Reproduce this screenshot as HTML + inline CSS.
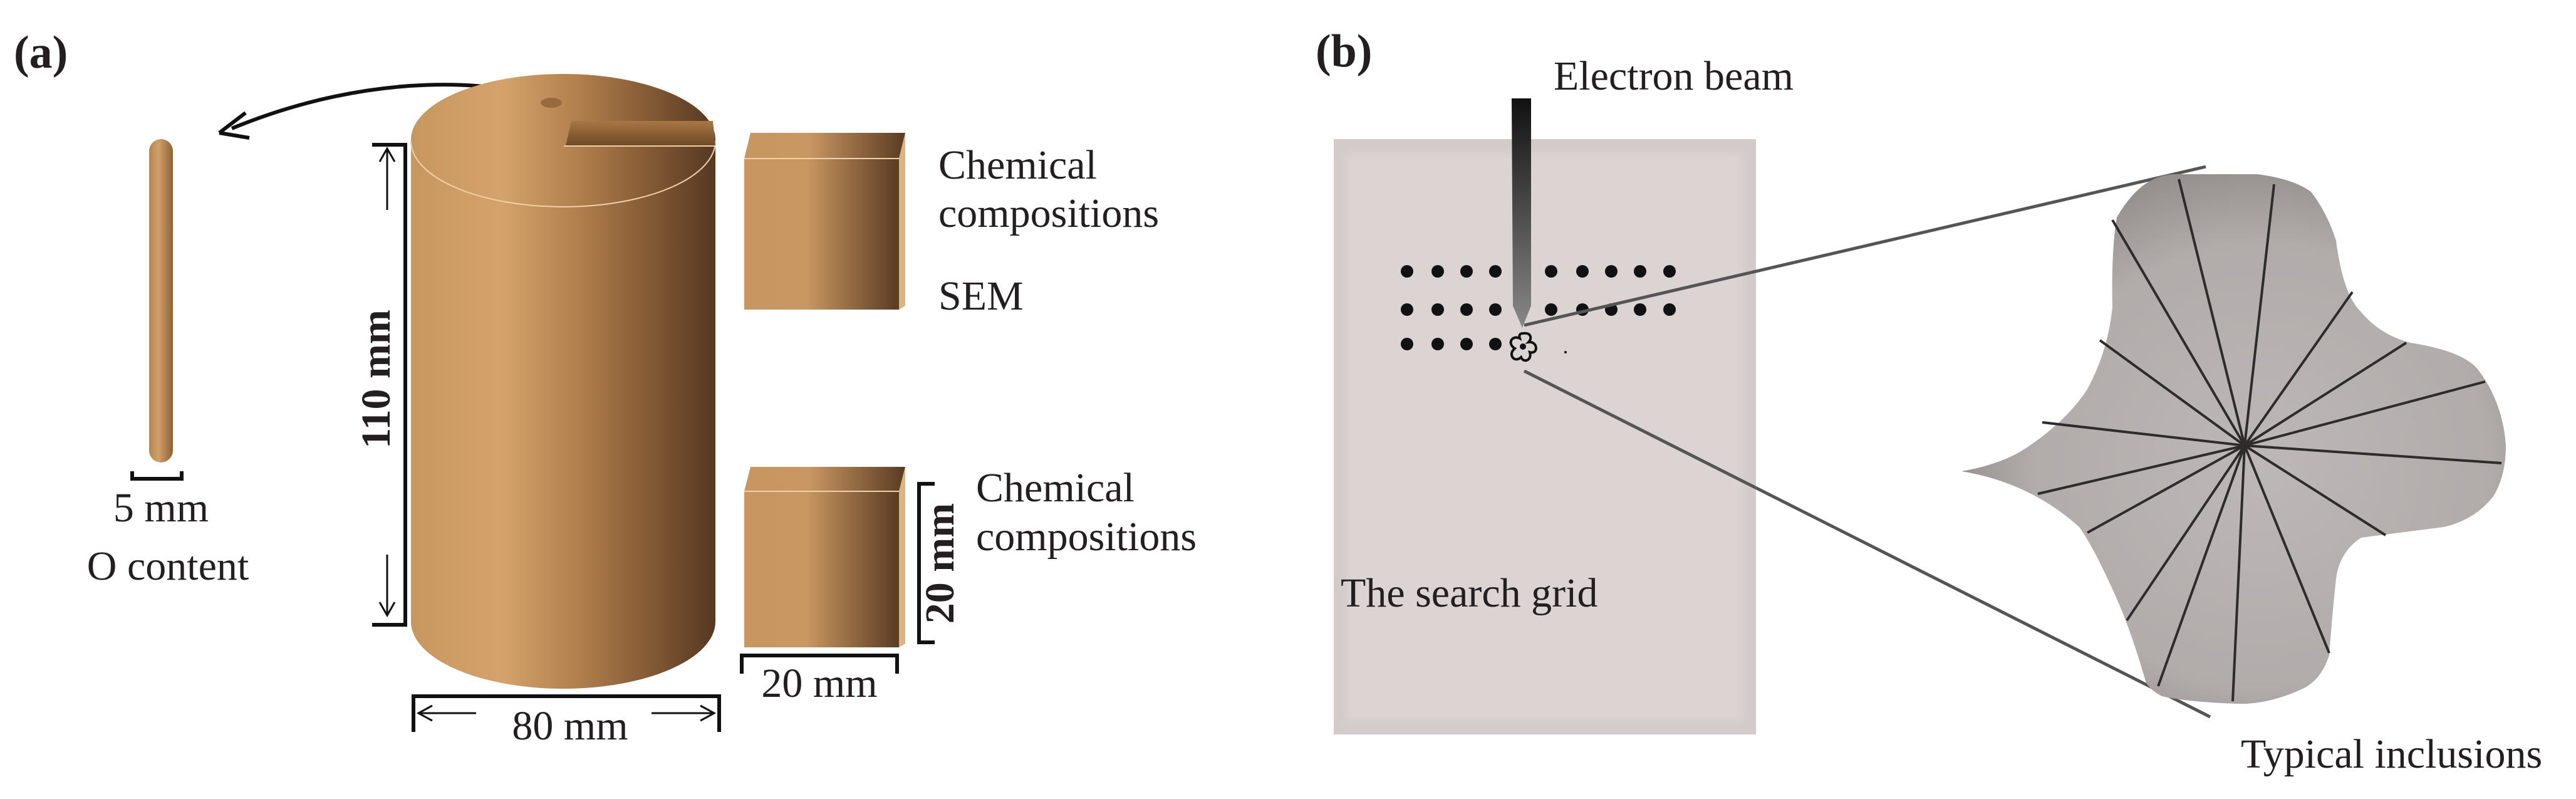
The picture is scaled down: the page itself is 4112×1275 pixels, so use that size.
<!DOCTYPE html>
<html><head><meta charset="utf-8"><style>
html,body{margin:0;padding:0;background:#fff;}
svg{display:block;}
text{font-family:"Liberation Serif",serif;fill:#231f20;}
</style></head><body>
<svg width="4112" height="1275" viewBox="0 0 4112 1275" xmlns="http://www.w3.org/2000/svg">
<defs>
<linearGradient id="cyl" x1="0" x2="1" y1="0" y2="0">
<stop offset="0" stop-color="#c8965f"/><stop offset="0.3" stop-color="#d4a26a"/>
<stop offset="0.55" stop-color="#b07f4d"/><stop offset="0.75" stop-color="#8a5f38"/>
<stop offset="1" stop-color="#553822"/></linearGradient>
<linearGradient id="blk" x1="0" x2="1" y1="0" y2="0">
<stop offset="0" stop-color="#c8965f"/><stop offset="0.4" stop-color="#c99762"/>
<stop offset="1" stop-color="#5a3b22"/></linearGradient>
<linearGradient id="rod" x1="0" x2="1"><stop offset="0" stop-color="#b7844f"/><stop offset="0.4" stop-color="#d0a06a"/><stop offset="1" stop-color="#8e6136"/></linearGradient>
<linearGradient id="slot" x1="0" x2="0" y1="0" y2="1"><stop offset="0" stop-color="#a87744"/><stop offset="1" stop-color="#6e4826"/></linearGradient>
<linearGradient id="beam" x1="0" x2="0" y1="0" y2="1"><stop offset="0" stop-color="#111"/><stop offset="1" stop-color="#888"/></linearGradient>
<radialGradient id="inc" cx="0.55" cy="0.55" r="0.6"><stop offset="0" stop-color="#bdb8b7"/><stop offset="0.7" stop-color="#b1abaa"/><stop offset="1" stop-color="#8f8988"/></radialGradient>
<filter id="soft"><feGaussianBlur stdDeviation="6"/></filter>
</defs>

<!-- (a) -->
<text x="22" y="108" font-size="74" font-weight="bold">(a)</text>

<!-- arrow curve -->
<path d="M880 160 C 800 130, 600 110, 370 205" fill="none" stroke="#111" stroke-width="6"/>
<path d="M350 212 L392 180 M350 212 L398 220" stroke="#111" stroke-width="6" fill="none"/>

<!-- rod -->
<rect x="238" y="222" width="38" height="516" rx="19" fill="url(#rod)"/>
<path d="M211 752 L211 764 L290 764 L290 752" fill="none" stroke="#111" stroke-width="6"/>
<text x="257" y="832" font-size="66" text-anchor="middle">5 mm</text>
<text x="268" y="925" font-size="66" text-anchor="middle">O content</text>

<!-- cylinder -->
<path d="M656 225 L656 992 A243 107 0 0 0 1142 992 L1142 225 Z" fill="url(#cyl)"/>
<ellipse cx="899" cy="223" rx="243" ry="105" fill="url(#cyl)"/>
<path d="M656 225 A243 105 0 0 0 1142 225" fill="none" stroke="#f0d2a8" stroke-width="2"/>
<path d="M903 233 L912 193 L1138 193 L1142 233 Z" fill="url(#slot)"/>
<line x1="900" y1="233" x2="1142" y2="233" stroke="#f0d2a8" stroke-width="2"/>
<ellipse cx="880" cy="164" rx="17" ry="8" fill="#9a6a3e"/>

<!-- 110 mm -->
<path d="M594 231 L647 231 L647 997 L594 997" fill="none" stroke="#111" stroke-width="6"/>
<path d="M618 335 L618 237 M606 258 L618 237 L630 258" fill="none" stroke="#111" stroke-width="3"/>
<path d="M618 885 L618 982 M606 961 L618 982 L630 961" fill="none" stroke="#111" stroke-width="3"/>
<text transform="translate(622 605) rotate(-90)" font-size="66" font-weight="bold" text-anchor="middle">110 mm</text>

<!-- 80 mm -->
<path d="M660 1168 L660 1111 L1148 1111 L1148 1168" fill="none" stroke="#111" stroke-width="6"/>
<path d="M760 1138 L668 1138 M690 1126 L668 1138 L690 1150" fill="none" stroke="#111" stroke-width="3"/>
<path d="M1040 1138 L1140 1138 M1118 1126 L1140 1138 L1118 1150" fill="none" stroke="#111" stroke-width="3"/>
<text x="910" y="1180" font-size="66" text-anchor="middle">80 mm</text>

<!-- block 1 -->
<path d="M1188 253 L1198 212 L1445 212 L1435 253 Z" fill="url(#blk)"/>
<rect x="1188" y="253" width="247" height="241" fill="url(#blk)"/>
<path d="M1435 253 L1445 212 L1445 488 L1435 494 Z" fill="#d9b48a"/>
<line x1="1188" y1="253" x2="1435" y2="253" stroke="#f0d2a8" stroke-width="2"/>
<text x="1498" y="285" font-size="66">Chemical</text>
<text x="1498" y="362" font-size="66">compositions</text>
<text x="1498" y="494" font-size="66">SEM</text>

<!-- block 2 -->
<path d="M1188 784 L1198 745 L1445 745 L1435 784 Z" fill="url(#blk)"/>
<rect x="1188" y="784" width="247" height="249" fill="url(#blk)"/>
<path d="M1435 784 L1445 745 L1445 1027 L1435 1033 Z" fill="#d9b48a"/>
<line x1="1188" y1="784" x2="1435" y2="784" stroke="#f0d2a8" stroke-width="2"/>
<text x="1558" y="800" font-size="66">Chemical</text>
<text x="1558" y="878" font-size="66">compositions</text>
<path d="M1492 772 L1467 772 L1467 1025 L1492 1025" fill="none" stroke="#111" stroke-width="6"/>
<text transform="translate(1522 899) rotate(-90)" font-size="66" font-weight="bold" text-anchor="middle">20 mm</text>
<path d="M1184 1075 L1184 1046 L1432 1046 L1432 1075" fill="none" stroke="#111" stroke-width="6"/>
<text x="1308" y="1112" font-size="66" text-anchor="middle">20 mm</text>

<!-- (b) -->
<text x="2100" y="106" font-size="74" font-weight="bold">(b)</text>
<text x="2480" y="143" font-size="66">Electron beam</text>

<rect x="2129" y="222" width="674" height="950" fill="#d3cbca"/>
<rect x="2150" y="245" width="632" height="905" fill="#dbd4d3" filter="url(#soft)"/>
<text x="2140" y="968" font-size="66">The search grid</text>

<!-- dots -->
<g fill="#111">
<circle cx="2246" cy="433" r="10"/><circle cx="2295" cy="433" r="10"/><circle cx="2341" cy="433" r="10"/><circle cx="2387" cy="433" r="10"/><circle cx="2476" cy="433" r="10"/><circle cx="2526" cy="433" r="10"/><circle cx="2572" cy="433" r="10"/><circle cx="2618" cy="433" r="10"/><circle cx="2665" cy="433" r="10"/>
<circle cx="2246" cy="494" r="10"/><circle cx="2295" cy="494" r="10"/><circle cx="2341" cy="494" r="10"/><circle cx="2387" cy="494" r="10"/><circle cx="2476" cy="494" r="10"/><circle cx="2526" cy="494" r="10"/><circle cx="2572" cy="494" r="10"/><circle cx="2618" cy="494" r="10"/><circle cx="2665" cy="494" r="10"/>
<circle cx="2246" cy="549" r="10"/><circle cx="2295" cy="549" r="10"/><circle cx="2341" cy="549" r="10"/><circle cx="2387" cy="549" r="10"/>
<circle cx="2431" cy="553" r="5"/><circle cx="2499" cy="562" r="2"/>
</g>
<path d="M2431 532 C2444 530,2446 540,2440 546 C2455 544,2456 566,2442 562 C2446 575,2432 580,2428 570 C2418 580,2406 566,2418 556 C2405 548,2414 534,2426 540 C2424 534,2427 532,2431 532 Z" fill="none" stroke="#111" stroke-width="4"/>

<!-- beam -->
<path d="M2413 157 L2444 157 L2444 488 L2430 523 L2415 488 Z" fill="url(#beam)"/>

<!-- zoom lines -->
<line x1="2433" y1="519" x2="3521" y2="266" stroke="#555" stroke-width="5"/>
<line x1="2433" y1="592" x2="3528" y2="1144" stroke="#555" stroke-width="5"/>

<!-- inclusion -->
<path d="M3379 347 Q3420 275 3478 278 L3603 278 Q3660 285 3689 306 Q3715 340 3729 384 Q3740 470 3769 498 Q3800 535 3848 547 Q3930 560 3954 588 Q3995 640 4000 711 Q4000 760 3980 792 Q3950 830 3901 841 Q3830 850 3769 858 Q3735 880 3729 923 Q3722 990 3718 1046 Q3705 1085 3676 1099 Q3620 1125 3570 1123 Q3490 1120 3451 1111 Q3430 1100 3425 1087 Q3400 1000 3372 940 Q3340 870 3319 841 Q3240 770 3131 752 Q3200 740 3240 711 Q3300 670 3332 621 Q3365 560 3372 490 Q3370 400 3379 347 Z" fill="url(#inc)"/>
<g stroke="#2e2b2b" stroke-width="4">
<line x1="3583" y1="711" x2="3478" y2="286"/>
<line x1="3583" y1="711" x2="3630" y2="294"/>
<line x1="3583" y1="711" x2="3372" y2="351"/>
<line x1="3583" y1="711" x2="3755" y2="466"/>
<line x1="3583" y1="711" x2="3352" y2="543"/>
<line x1="3583" y1="711" x2="3841" y2="547"/>
<line x1="3583" y1="711" x2="3260" y2="674"/>
<line x1="3583" y1="711" x2="3967" y2="609"/>
<line x1="3583" y1="711" x2="3993" y2="739"/>
<line x1="3583" y1="711" x2="3253" y2="788"/>
<line x1="3583" y1="711" x2="3808" y2="854"/>
<line x1="3583" y1="711" x2="3332" y2="850"/>
<line x1="3583" y1="711" x2="3718" y2="1042"/>
<line x1="3583" y1="711" x2="3445" y2="1095"/>
<line x1="3583" y1="711" x2="3564" y2="1119"/>
<line x1="3583" y1="711" x2="3395" y2="990"/>
</g>
<text x="3577" y="1225" font-size="66">Typical inclusions</text>
</svg>
</body></html>
